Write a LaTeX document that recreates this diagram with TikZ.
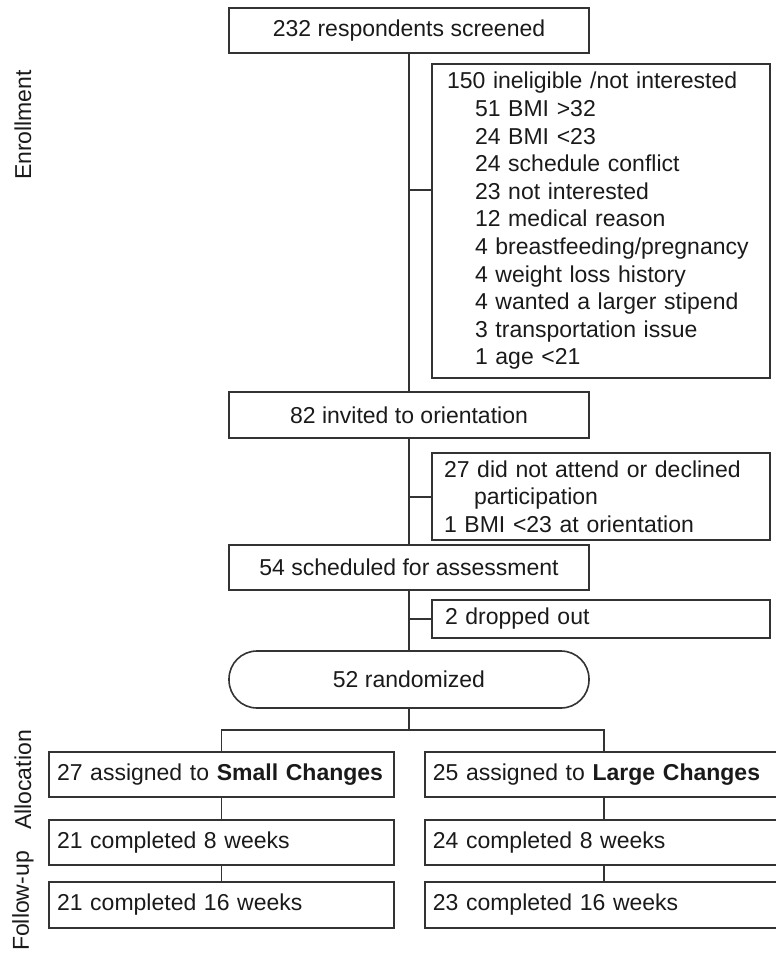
\documentclass[tikz,border=0pt]{standalone}
\usepackage{fontspec}
\setmainfont{Liberation Sans}
\definecolor{linec}{HTML}{333333}
\definecolor{textc}{HTML}{1A1A1A}
\begin{document}
\begin{tikzpicture}[x=1pt,y=-1pt,
  conn/.style={draw=linec, line width=1.6pt},
  box/.style={draw=linec, line width=1.6pt, rectangle, inner sep=0pt, text=textc,
    font=\fontsize{23}{27.6}\selectfont},
  lbox/.style={box, align=left},
  stage/.style={rotate=90, text=textc, font=\fontsize{23}{27.6}\selectfont, inner sep=0pt}
]
\useasboundingbox (0,0) rectangle (776,954);

% main column
\node[box, minimum width=360pt, minimum height=45pt] (top) at (409,30.5) {232 respondents screened};
\node[lbox, text width=308pt, inner xsep=15pt, minimum height=314pt] (inel) at (601,221)
  {150 ineligible /not interested\\
   \hspace*{28pt}51 BMI >32\\
   \hspace*{28pt}24 BMI <23\\
   \hspace*{28pt}24 schedule conflict\\
   \hspace*{28pt}23 not interested\\
   \hspace*{28pt}12 medical reason\\
   \hspace*{28pt}4 breastfeeding/pregnancy\\
   \hspace*{28pt}4 weight loss history\\
   \hspace*{28pt}4 wanted a larger stipend\\
   \hspace*{28pt}3 transportation issue\\
   \hspace*{28pt}1 age <21};
\node[box, minimum width=360pt, minimum height=46pt] (inv) at (409,415) {82 invited to orientation};
\node[lbox, text width=314pt, inner xsep=12pt, minimum height=87pt] (decl) at (601,496.5)
  {27 did not attend or declined\\
   \hspace*{30pt}participation\\
   1 BMI <23 at orientation};
\node[box, minimum width=360pt, minimum height=45pt] (sched) at (409,567.5) {54 scheduled for assessment};
\node[lbox, text width=312pt, inner xsep=13pt, minimum height=38pt] (drop) at (601,619) {2 dropped out};
\node[box, minimum width=360pt, minimum height=57pt, rounded corners=28pt] (rand) at (409,679.5) {52 randomized};

% arms
\coordinate (lc) at (604,730);
\node[lbox, text width=329pt, inner xsep=8pt, minimum height=45pt] (small) at (221.5,774.5)
  {27 assigned to \textbf{Small Changes}};
\node[lbox, text width=384pt, inner xsep=8pt, minimum height=45pt, anchor=west] (large) at (424,774.5)
  {25 assigned to \textbf{Large Changes}};
\node[lbox, text width=329pt, inner xsep=8pt, minimum height=45pt] (s8) at (221.5,842.5) {21 completed 8 weeks};
\node[lbox, text width=384pt, inner xsep=8pt, minimum height=45pt, anchor=west] (l8) at (424,842.5) {24 completed 8 weeks};
\node[lbox, text width=329pt, inner xsep=8pt, minimum height=46pt] (s16) at (221.5,905) {21 completed 16 weeks};
\node[lbox, text width=384pt, inner xsep=8pt, minimum height=46pt, anchor=west] (l16) at (424,905) {23 completed 16 weeks};

% stage labels
\node[stage] (enr) at (23,125) {Enrollment};
\node[stage] (alloc) at (23,780) {Allocation};
\node[stage] (fol) at (23,901) {Follow-up};

% connectors
\coordinate (b1) at (409,190);
\coordinate (b2) at (409,497);
\coordinate (b3) at (409,619);
\coordinate (sp) at (409,730);
\draw[conn] (top.south) -- (inv.north);
\draw[conn] (inv.south) -- (sched.north);
\draw[conn] (sched.south) -- (rand.north);
\draw[conn] (b1) -- (b1 -| inel.west);
\draw[conn] (b2) -- (b2 -| decl.west);
\draw[conn] (b3) -- (b3 -| drop.west);
\draw[conn] (rand.south) -- (sp);
\draw[conn] (small.north) -- (small.north |- sp) -- (lc) -- (lc |- large.north);
\draw[conn] (small.south) -- (s8.north);
\draw[conn] (s8.south) -- (s16.north);
\draw[conn] (lc |- large.south) -- (lc |- l8.north);
\draw[conn] (lc |- l8.south) -- (lc |- l16.north);
\end{tikzpicture}
\end{document}
